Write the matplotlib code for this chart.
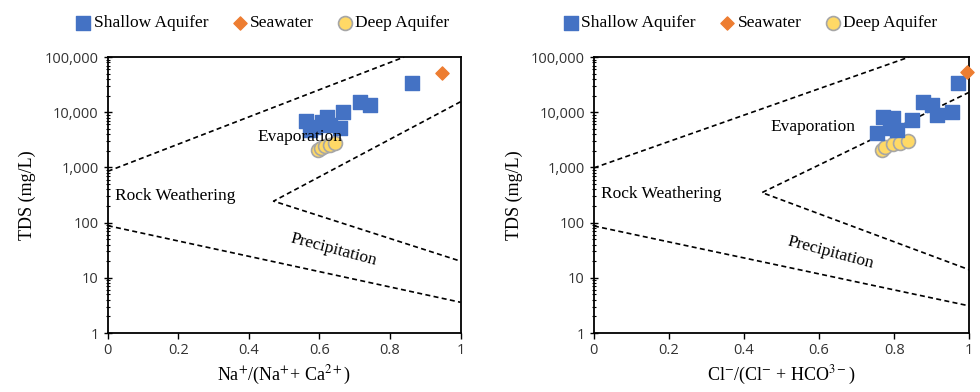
import matplotlib
matplotlib.use("Agg")
from matplotlib import pyplot as plt
from matplotlib.ticker import FuncFormatter, LogLocator

plt.rcParams['font.family'] = ['Liberation Serif', 'DejaVu Serif']
plt.rcParams['mathtext.fontset'] = 'stix'

# --- data ---
# left panel: Na/(Na+Ca) vs TDS
na_shallow_x = [0.561, 0.572, 0.586, 0.606, 0.620, 0.629, 0.657, 0.666, 0.714, 0.742, 0.861]
na_shallow_y = [6900, 4800, 5300, 6600, 8100, 5900, 5200, 10000, 15200, 13400, 33600]
na_sea_x = [0.946]
na_sea_y = [51500]
na_deep_x = [0.595, 0.603, 0.615, 0.629, 0.643]
na_deep_y = [2100, 2240, 2450, 2570, 2770]

# right panel: Cl/(Cl+HCO3) vs TDS
cl_shallow_x = [0.755, 0.771, 0.797, 0.789, 0.808, 0.848, 0.877, 0.901, 0.915, 0.955, 0.971]
cl_shallow_y = [4200, 8200, 7800, 5200, 4800, 7200, 15200, 13400, 8900, 10000, 33600]
cl_sea_x = [0.995]
cl_sea_y = [53000]
cl_deep_x = [0.768, 0.776, 0.797, 0.816, 0.837]
cl_deep_y = [2100, 2350, 2630, 2770, 3000]

# Gibbs boundary lines (x, TDS)
na_upper = ([0, 0.84], [850, 100000])
na_boom = ([1, 0.47, 1], [15500, 245, 20])
na_lower = ([0, 1], [88, 3.6])
cl_upper = ([0, 0.84], [980, 100000])
cl_boom = ([1, 0.448, 1], [23000, 350, 14])
cl_lower = ([0, 1], [87, 3.1])

blue = '#4472C4'
orange = '#ED7D31'
yellow = '#FFD966'

fig = plt.figure(figsize=(9.8, 3.92), dpi=100)
ax1 = fig.add_axes([0.110, 0.1505, 0.360, 0.704])
ax2 = fig.add_axes([0.606, 0.1505, 0.383, 0.704])

panels = [
    (ax1, na_shallow_x, na_shallow_y, na_sea_x, na_sea_y, na_deep_x, na_deep_y,
     [na_upper, na_boom, na_lower], r'Na$^{+}$/(Na$^{+}$+ Ca$^{2+}$)',
     (0.544, 3550), (0.02, 300), (0.64, 32), 0.435),
    (ax2, cl_shallow_x, cl_shallow_y, cl_sea_x, cl_sea_y, cl_deep_x, cl_deep_y,
     [cl_upper, cl_boom, cl_lower], r'Cl$^{-}$/(Cl$^{-}$ + HCO$^{3-}$)',
     (0.584, 5400), (0.02, 330), (0.63, 28), 0.413),
]

for ax, sx, sy, wx, wy, dx, dy, lines, xlab, evap, rock, prec, legx in panels:
    for lx, ly in lines:
        ax.plot(lx, ly, ls=(0, (3, 2)), color='black', lw=1.2, zorder=1)
    ax.scatter(sx, sy, marker='s', s=110, color=blue, zorder=3, label='Shallow Aquifer', clip_on=False)
    ax.scatter(wx, wy, marker='D', s=45, color=orange, zorder=3, label='Seawater', clip_on=False)
    ax.scatter(dx, dy, marker='o', s=100, color=yellow, edgecolors='#A6A6A6',
               linewidths=1.2, zorder=2, label='Deep Aquifer')
    ax.set_yscale('log')
    ax.set_ylim(1, 100000)
    ax.set_xlim(0, 1)
    ax.set_xticks([0, 0.2, 0.4, 0.6, 0.8, 1])
    ax.xaxis.set_major_formatter(FuncFormatter(lambda v, p: '%g' % v))
    ax.yaxis.set_major_locator(LogLocator(base=10, numticks=10))
    ax.yaxis.set_minor_locator(LogLocator(base=10, subs=range(2, 10), numticks=10))
    ax.yaxis.set_major_formatter(FuncFormatter(lambda v, p: '{:,.0f}'.format(v)))
    for t in ax.get_xticklabels() + ax.get_yticklabels():
        t.set_family('Open Sans')
        t.set_fontsize(10.5)
        t.set_color('#333333')
    ax.tick_params(axis='x', direction='out', length=4, width=1)
    ax.tick_params(axis='y', which='major', direction='inout', length=6, width=1)
    ax.tick_params(axis='y', which='minor', direction='inout', length=3, width=0.8)
    for s in ax.spines.values():
        s.set_linewidth(1.3)
    ax.set_xlabel(xlab, fontsize=13)
    ax.set_ylabel('TDS (mg/L)', fontsize=13, labelpad=6)
    ax.text(evap[0], evap[1], 'Evaporation', fontsize=12.5, ha='center', va='center', zorder=4)
    ax.text(rock[0], rock[1], 'Rock Weathering', fontsize=12.5, ha='left', va='center')
    ax.text(prec[0], prec[1], 'Precipitation', fontsize=12.5, ha='center', va='center', rotation=-15)
    ax.legend(loc='center', bbox_to_anchor=(legx, 1.123), ncol=3, frameon=False, fontsize=12.5,
              handletextpad=0.0, columnspacing=1.2, handlelength=1.2)

fig.savefig('out.png', dpi=100)
